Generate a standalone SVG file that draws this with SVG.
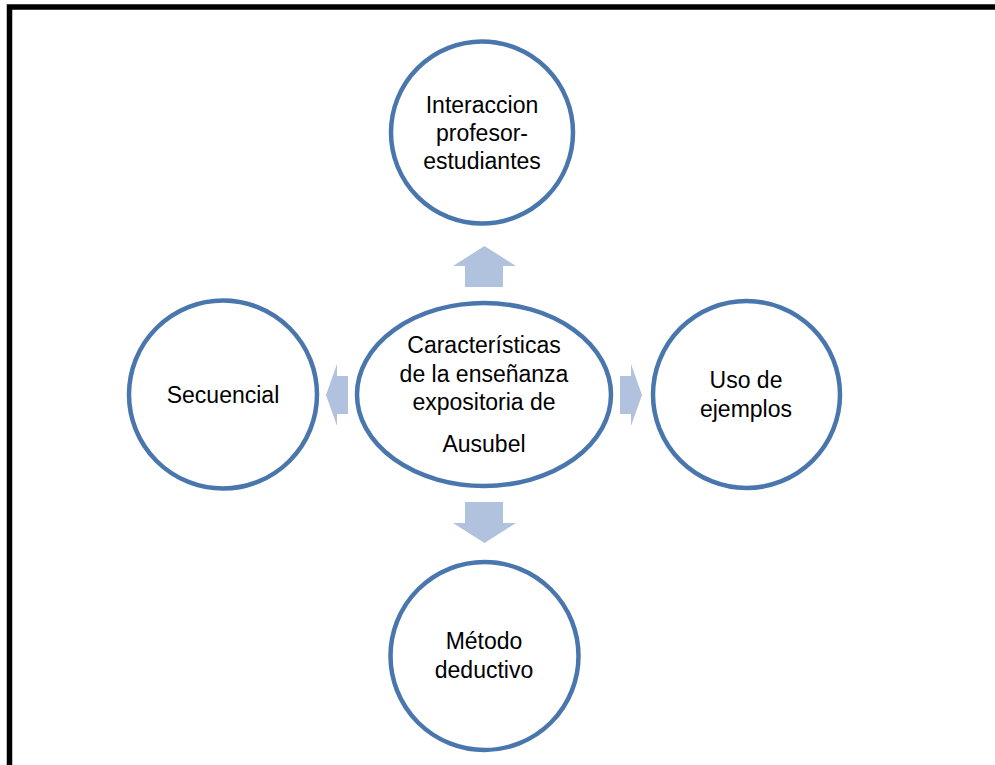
<svg xmlns="http://www.w3.org/2000/svg" width="995" height="765" viewBox="0 0 995 765">
<style>
.node{fill:#ffffff;stroke:#4A76AE;stroke-width:4.5}
.arr{fill:#B0C2DE;stroke:none}
text{font-family:"Liberation Sans","Noto Sans",Arial,sans-serif;font-size:23px;fill:#000;text-anchor:middle}
</style>
<rect x="0" y="0" width="995" height="765" fill="#ffffff"/>
<rect x="9.5" y="7" width="1000" height="800" fill="none" stroke="#000" stroke-width="5.5"/>
<g id="connectors">
<polygon class="arr" points="484.5,246 516,266 503,266 503,287 465,287 465,266 453,266"/>
<polygon class="arr" points="465,502 503,502 503,523 516,523 484.5,543 453,523 465,523"/>
<polygon class="arr" points="326,395 337,364 337,376 348,376 348,414 337,414 337,426"/>
<polygon class="arr" points="620,376 631,376 631,364 642,395 631,426 631,414 620,414"/>
</g>
<g id="center">
<ellipse class="node" cx="484" cy="394.5" rx="127" ry="91.5"/>
<text x="484" y="353">Características</text>
<text x="484" y="382">de la enseñanza</text>
<text x="484" y="410">expositoria de</text>
<text x="484" y="452">Ausubel</text>
</g>
<g id="top">
<circle class="node" cx="482" cy="132.5" r="91"/>
<text x="482" y="113">Interaccion</text>
<text x="482" y="141">profesor-</text>
<text x="482" y="169">estudiantes</text>
</g>
<g id="left">
<circle class="node" cx="223" cy="394.5" r="94"/>
<text x="223" y="403">Secuencial</text>
</g>
<g id="right">
<circle class="node" cx="746.5" cy="394.5" r="93.5"/>
<text x="746" y="388">Uso de</text>
<text x="746" y="417">ejemplos</text>
</g>
<g id="bottom">
<circle class="node" cx="484.5" cy="656" r="94"/>
<text x="484" y="649">Método</text>
<text x="484" y="678">deductivo</text>
</g>
</svg>
